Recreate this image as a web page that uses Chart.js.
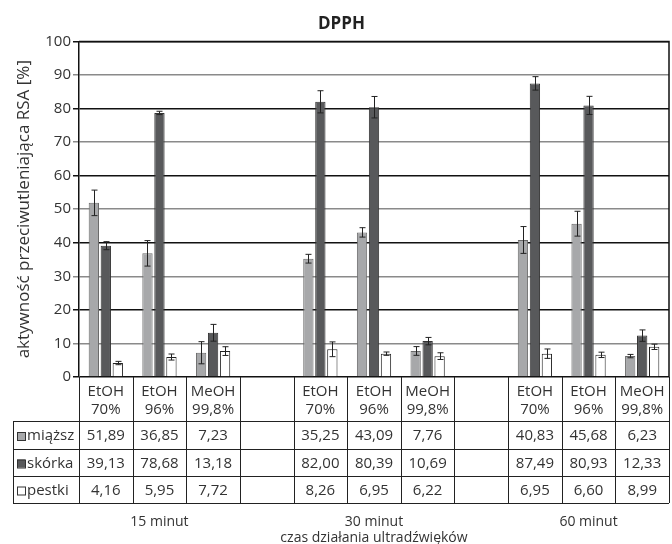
<!DOCTYPE html>
<html>
<head>
<meta charset="utf-8">
<script src="https://cdn.jsdelivr.net/npm/chart.js@4.4.1/dist/chart.umd.min.js"></script>
<style>
  html, body { margin: 0; padding: 0; background: #fff; }
  #box { width: 672px; height: 544px; }
</style>
</head>
<body>
<div id="box"><canvas id="wykres"></canvas></div>
<script>
// kategorie (puste kolumny oddzielaja grupy czasowe)
const kategorie = [
  ['EtOH', '70%'], ['EtOH', '96%'], ['MeOH', '99,8%'], ['', ''],
  ['EtOH', '70%'], ['EtOH', '96%'], ['MeOH', '99,8%'], ['', ''],
  ['EtOH', '70%'], ['EtOH', '96%'], ['MeOH', '99,8%']
];
const grupy = ['15 minut', '30 minut', '60 minut'];

const miazsz = [51.89, 36.85, 7.23, null, 35.25, 43.09, 7.76, null, 40.83, 45.68, 6.23];
const skorka = [39.13, 78.68, 13.18, null, 82.00, 80.39, 10.69, null, 87.49, 80.93, 12.33];
const pestki = [4.16, 5.95, 7.72, null, 8.26, 6.95, 6.22, null, 6.95, 6.60, 8.99];

// odchylenia
const bladMiazsz = [3.8, 3.8, 3.3, null, 1.3, 1.4, 1.3, null, 4.0, 3.7, 0.5];
const bladSkorka = [1.2, 0.5, 2.5, null, 3.3, 3.2, 1.1, null, 2.0, 2.7, 1.7];
const bladPestki = [0.5, 0.9, 1.3, null, 2.2, 0.5, 1.0, null, 1.4, 0.8, 0.8];

const FONT = '"Open Sans", "DejaVu Sans", sans-serif';

function fmt(v) {
  return v.toFixed(2).replace('.', ',');
}

const tabelaPlugin = {
  id: 'tabela',
  afterDatasetsDraw(chart) {
    const ctx = chart.ctx;
    const ys = chart.scales.y;
    const bledy = [bladMiazsz, bladSkorka, bladPestki];
    ctx.save();
    ctx.strokeStyle = '#222';
    ctx.lineWidth = 1;
    chart.data.datasets.forEach((ds, di) => {
      const meta = chart.getDatasetMeta(di);
      meta.data.forEach((bar, i) => {
        const v = ds.data[i];
        const e = bledy[di][i];
        if (v == null || e == null) return;
        const x = Math.round(bar.x) + 0.5;
        const y1 = ys.getPixelForValue(v + e);
        const y2 = ys.getPixelForValue(v - e);
        ctx.beginPath();
        ctx.moveTo(x, y1); ctx.lineTo(x, y2);
        ctx.moveTo(x - 3, y1); ctx.lineTo(x + 3, y1);
        ctx.moveTo(x - 3, y2); ctx.lineTo(x + 3, y2);
        ctx.stroke();
      });
    });
    ctx.restore();
  },
  afterDraw(chart) {
    const ctx = chart.ctx;
    const a = chart.chartArea;
    const xs = chart.scales.x;
    const n = kategorie.length;
    const w = (a.right - a.left) / n;
    const rows = [421, 449, 476, 503];
    const tabLeft = 13;

    ctx.save();
    // ramka obszaru wykresu
    ctx.strokeStyle = '#111';
    ctx.lineWidth = 1.5;
    ctx.beginPath();
    ctx.moveTo(a.left, a.top); ctx.lineTo(a.right, a.top); ctx.lineTo(a.right, a.bottom);
    ctx.stroke();

    // linie tabeli
    ctx.strokeStyle = '#222';
    ctx.lineWidth = 1;
    ctx.beginPath();
    for (let i = 0; i <= n; i++) {
      const x = Math.round(a.left + i * w) + 0.5;
      ctx.moveTo(x, a.bottom);
      ctx.lineTo(x, rows[3]);
    }
    ctx.moveTo(tabLeft + 0.5, rows[0]);
    ctx.lineTo(tabLeft + 0.5, rows[3]);
    rows.forEach(r => {
      ctx.moveTo(tabLeft, r + 0.5);
      ctx.lineTo(a.right, r + 0.5);
    });
    ctx.stroke();

    ctx.fillStyle = '#333';
    ctx.font = '15px ' + FONT;
    ctx.textAlign = 'center';
    ctx.textBaseline = 'middle';
    kategorie.forEach((k, i) => {
      const cx = xs.getPixelForValue(i);
      ctx.fillText(k[0], cx, 392);
      ctx.fillText(k[1], cx, 410);
    });

    const serie = chart.data.datasets;
    serie.forEach((ds, di) => {
      const cy = (rows[di] + rows[di + 1]) / 2 + 1;
      // znacznik legendy
      ctx.fillStyle = ds.backgroundColor;
      ctx.fillRect(17, cy - 4, 8, 8);
      ctx.strokeStyle = '#333';
      ctx.strokeRect(17.5, cy - 3.5, 8, 8);
      ctx.fillStyle = '#333';
      ctx.textAlign = 'left';
      ctx.fillText(ds.label, 27, cy);
      ctx.textAlign = 'center';
      ds.data.forEach((v, i) => {
        if (v == null) return;
        ctx.fillText(fmt(v), xs.getPixelForValue(i), cy);
      });
    });

    ctx.font = '14px ' + FONT;
    grupy.forEach((g, gi) => {
      ctx.fillText(g, xs.getPixelForValue(gi * 4 + 1), 522);
    });
    ctx.fillText('czas działania ultradźwięków', xs.getPixelForValue(5), 538);
    ctx.restore();
  }
};

const ctx = document.getElementById('wykres').getContext('2d');
const chart = new Chart(ctx, {
  type: 'bar',
  data: {
    labels: kategorie,
    datasets: [
      { label: 'miąższ', data: miazsz, backgroundColor: '#a7a8aa', borderColor: '#6a6a6a', borderWidth: 1 },
      { label: 'skórka', data: skorka, backgroundColor: '#58595b', borderColor: '#333333', borderWidth: 1 },
      { label: 'pestki', data: pestki, backgroundColor: '#ffffff', borderColor: '#222222', borderWidth: 1 }
    ]
  },
  options: {
    responsive: true,
    maintainAspectRatio: false,
    animation: false,
    datasets: { bar: { categoryPercentage: 0.67, barPercentage: 0.86 } },
    layout: { padding: { left: 14, right: 3, top: 0, bottom: 167 } },
    plugins: {
      legend: { display: false },
      tooltip: { enabled: false },
      title: {
        display: true,
        text: 'DPPH',
        color: '#222',
        font: { family: FONT, size: 17, weight: 'bold' },
        padding: { top: 14, bottom: 7 }
      }
    },
    scales: {
      x: { display: false },
      y: {
        min: 0, max: 100,
        ticks: { stepSize: 10, color: '#333', font: { family: FONT, size: 15 }, padding: 2 },
        grid: {
          color: c => (c.tick && c.tick.value % 20 === 10) ? '#8a8a8a' : '#111',
          lineWidth: 1.5,
          tickLength: 6
        },
        border: { color: '#111', width: 1.5 },
        title: {
          display: true,
          text: 'aktywność przeciwutleniająca RSA [%]',
          color: '#333',
          font: { family: FONT, size: 17 },
          padding: { top: 0, bottom: 2 }
        },
        afterFit(scale) { scale.width = 65; }
      }
    }
  },
  plugins: [tabelaPlugin]
});
</script>
</body>
</html>
